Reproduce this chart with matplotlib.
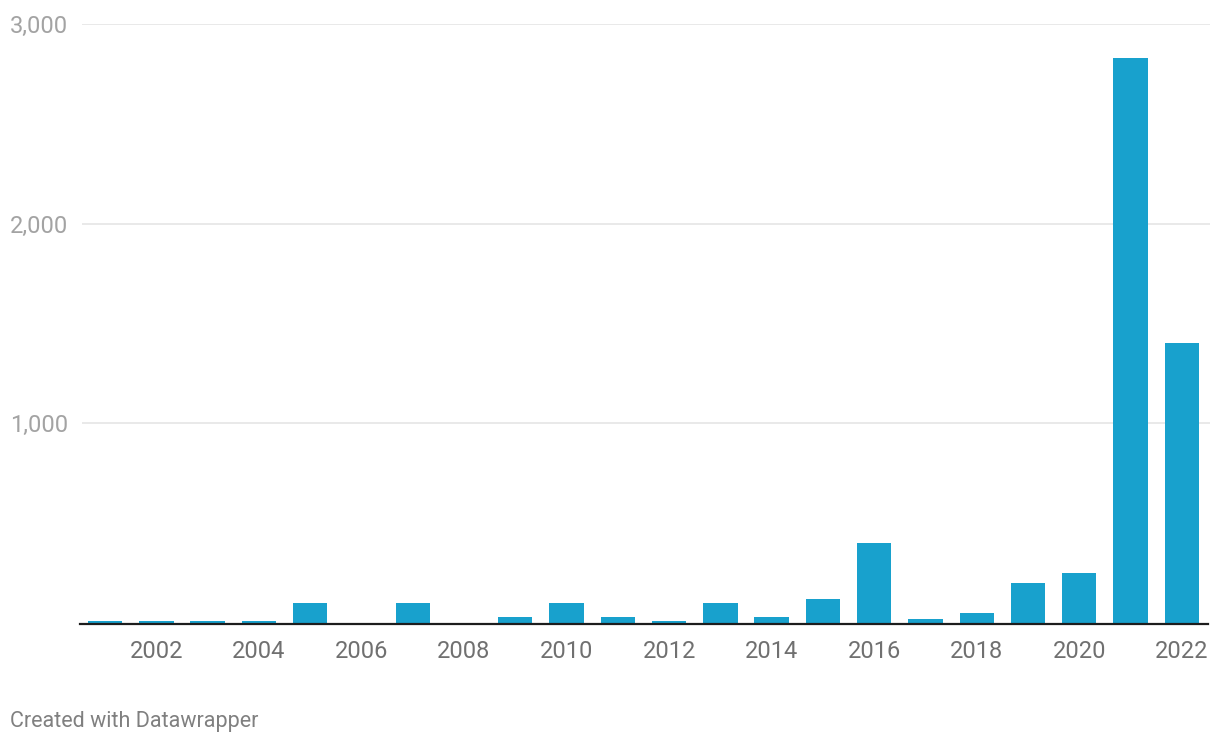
import numpy as np
import matplotlib.pyplot as plt
import matplotlib.transforms as mtransforms

plt.rcParams["font.family"] = ["Roboto", "DejaVu Sans"]

years = list(range(2001, 2023))
values = [10, 10, 10, 10, 100, 0, 100, 0, 30, 100, 30, 10,
          100, 30, 120, 400, 20, 50, 200, 250, 2830, 1400]
y_ticks = [1000, 2000, 3000]
x_ticks = list(range(2002, 2023, 2))

fig = plt.figure(figsize=(12.2, 7.46), dpi=100)
ax = fig.add_axes([82 / 1220, 1 - 623 / 746, (1210 - 82) / 1220, (623 - 24) / 746])

ax.bar(years, values, width=0.67, color="#18a1cd", zorder=2)

ax.set_xlim(2000.55, 2022.55)
ax.set_ylim(0, 3000)

# gridlines
for t in y_ticks:
    ax.axhline(t, color="#e3e3e3", lw=1.1, zorder=1)
# baseline: x in axes coords, y in data coords, nudged 1px down
base_tr = mtransforms.offset_copy(ax.get_yaxis_transform(), fig=fig, x=0, y=-1, units="dots")
ax.plot([-0.002, 0.998], [0, 0], transform=base_tr,
        color="#1d1d1d", lw=1.6, zorder=3, clip_on=False)

ax.set_yticks(y_ticks)
ax.set_yticklabels([f"{t:,}" for t in y_ticks], ha="left")
ax.tick_params(axis="y", length=0, pad=51.8, labelsize=17, labelcolor="#a3a3a3")

ax.set_xticks(x_ticks)
ax.set_xticklabels([str(x) for x in x_ticks])
ax.tick_params(axis="x", length=0, pad=12, labelsize=17, labelcolor="#707070")

for s in ax.spines.values():
    s.set_visible(False)

fig.text(10 / 1220, 1 - 722 / 746, "Created with Datawrapper", fontsize=15.5,
         color="#808080", ha="left", va="center")

fig.savefig("out.png", dpi=100)
